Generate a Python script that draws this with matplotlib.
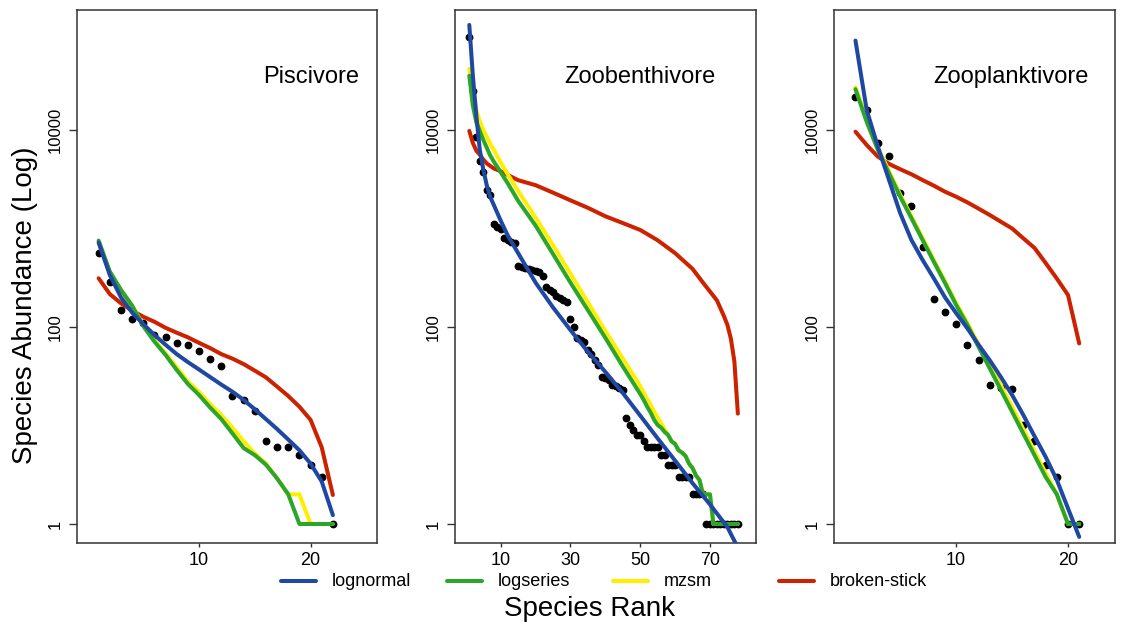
import matplotlib
matplotlib.use('Agg')
import matplotlib.pyplot as plt
from matplotlib.lines import Line2D
import numpy as np

plt.rcParams['font.family'] = ['Liberation Sans', 'DejaVu Sans']

guilds = ['Piscivore', 'Zoobenthivore', 'Zooplanktivore']
models = ['lognormal', 'logseries', 'mzsm', 'broken-stick']
model_colors = ['#1f48a3', '#2ba52b', '#ffee00', '#cc2200']

# --- Piscivore: 22 species, fitted values at every rank
pisc_obs = [560, 284, 149, 120, 109, 83, 79, 69, 65, 57, 47, 40, 20, 18, 14,
            7, 6, 6, 5, 4, 3, 1]
pisc_lognormal = [718, 337, 200, 140, 107, 83, 66, 53, 44, 37, 31, 26, 22,
                  18.2, 14.6, 11.6, 9.2, 7.2, 5.6, 4.1, 2.7, 1.23]
pisc_logseries = [753, 366, 238, 165, 102, 71, 52, 36.6, 26.4, 20.4, 15.2,
                  11.6, 8.3, 5.9, 5.0, 4.0, 2.9, 2.0, 1, 1, 1, 1]
pisc_mzsm = [730, 360, 236, 165, 104, 73, 54, 39, 28, 22, 16.5, 12.8, 9.5,
             6.9, 5.2, 4.1, 2.9, 2, 2, 1, 1, 1]
pisc_broken = [312, 216, 174, 147, 127, 113, 98, 87.5, 78.5, 69, 61, 53, 47.7,
               42, 36, 30.8, 24.8, 19.9, 15.5, 11.4, 6.0, 1.97]

# --- Zoobenthivore: 78 species, fitted curves read at selected ranks
zoob_obs = [87300, 24900, 8500, 4840, 3775, 2460, 2190, 1100, 1040, 990,
            800, 765, 735, 707, 416, 406, 397, 388, 379, 370,
            362, 330, 253, 240, 227, 206, 196, 188, 180, 120,
            101, 77, 74, 70, 58, 53, 46, 41, 31, 30,
            29, 26, 25, 24, 23, 12, 10, 9, 8, 8,
            7, 6, 6, 6, 6, 5, 5, 4, 4, 4,
            3, 3, 3, 3, 2, 2, 2, 2, 1, 1,
            1, 1, 1, 1, 1, 1, 1, 1]
zoob_lognormal_rank = [1, 2, 3, 4, 5, 6, 7, 8, 10, 12, 15, 20, 25, 30, 35, 40,
                       45, 50, 55, 60, 65, 70, 75, 78]
zoob_lognormal = [116400, 36300, 14100, 6310, 3980, 2750, 2090, 1740, 1200,
                  851, 562, 282, 158, 93, 56, 35, 21.4, 12.6, 7.4, 4.4, 2.6,
                  1.58, 0.93, 0.575]
zoob_logseries_rank = [1, 2, 3, 4, 5, 6, 7, 8, 10, 12, 15, 20, 25, 30, 35, 40,
                       45, 50, 51, 52, 53, 54, 55, 56, 57, 58, 59, 60, 61, 62,
                       63, 64, 65, 66, 67, 68, 69, 70, 71, 78]
zoob_logseries = [35500, 17800, 12000, 9770, 7940, 6610, 5500, 4790, 3720,
                  2880, 1905, 1070, 550, 282, 148, 77.6, 39.8, 20.9, 18.2,
                  15.5, 13.5, 11.4, 10.1, 9.5, 8.6, 8.0, 6.9, 6.5, 5.6, 5.3,
                  4.9, 4.1, 3.7, 3.1, 2.8, 2, 2, 2, 1, 1]
zoob_mzsm_rank = [1, 2, 3, 4, 5, 6, 7, 8, 10, 12, 15, 20, 25, 30, 35, 40, 45,
                  50, 52, 55, 58, 59, 60, 61, 62, 63, 64, 65, 66, 67, 68, 69,
                  70, 71, 78]
zoob_mzsm = [41700, 24000, 15800, 12300, 10000, 8510, 7240, 6310, 4680, 3550,
             2400, 1290, 676, 347, 178, 91, 47.9, 25.1, 18.6, 12.0, 8.0, 6.9,
             6.5, 5.6, 5.3, 4.9, 4.1, 3.7, 3.1, 2.8, 2, 2, 2, 1, 1]
zoob_broken_rank = [1, 2, 3, 4, 5, 6, 8, 10, 15, 20, 25, 30, 35, 40, 45, 50,
                    55, 60, 65, 68, 70, 72, 74, 75, 76, 77, 78]
zoob_broken = [9770, 7410, 6170, 5620, 5010, 4570, 4070, 3800, 3090, 2750,
               2310, 1930, 1620, 1330, 1135, 966, 759, 562, 389, 282, 229,
               186, 129, 105, 76, 44.7, 13.2]

# --- Zooplanktivore: 21 species
zoop_obs = [21500, 15960, 7330, 5480, 2310, 1690, 653, 192, 143, 106, 65, 46,
            25.6, 24, 23.6, 10, 7, 4, 3, 1, 1]
zoop_lognormal = [80700, 16000, 6770, 3100, 1427, 764, 479, 312, 200, 138, 97,
                  66, 46, 31, 20.4, 12.8, 7.8, 4.8, 2.8, 1.44, 0.74]
zoop_logseries = [25900, 12100, 6270, 3630, 2100, 1270, 764, 460, 280, 167,
                  105, 63, 38, 23, 13.8, 8.3, 5.0, 3.0, 2.0, 1, 1]
zoop_mzsm = [27000, 12800, 6600, 3800, 2200, 1330, 800, 480, 292, 175, 110,
             67, 41, 25.5, 15.5, 9.2, 5.5, 3.3, 2.0, 1, 1]
zoop_broken = [9600, 7040, 5360, 4520, 3990, 3550, 3100, 2720, 2360, 2100,
               1840, 1590, 1370, 1170, 1000, 795, 635, 446, 310, 211, 68]

pisc_ranks = np.arange(1, len(pisc_obs) + 1)
zoob_ranks = np.arange(1, len(zoob_obs) + 1)
zoop_ranks = np.arange(1, len(zoop_obs) + 1)

panels = [
    (pisc_ranks, pisc_obs,
     [(pisc_ranks, pisc_lognormal), (pisc_ranks, pisc_logseries),
      (pisc_ranks, pisc_mzsm), (pisc_ranks, pisc_broken)],
     [10, 20], (-0.94, 26.0)),
    (zoob_ranks, zoob_obs,
     [(zoob_lognormal_rank, zoob_lognormal), (zoob_logseries_rank, zoob_logseries),
      (zoob_mzsm_rank, zoob_mzsm), (zoob_broken_rank, zoob_broken)],
     [10, 30, 50, 70], (-3.1, 83.2)),
    (zoop_ranks, zoop_obs,
     [(zoop_ranks, zoop_lognormal), (zoop_ranks, zoop_logseries),
      (zoop_ranks, zoop_mzsm), (zoop_ranks, zoop_broken)],
     [10, 20], (-0.92, 24.2)),
]

W, H = 1126, 625
fig = plt.figure(figsize=(W / 100, H / 100), dpi=100)

# pixel boxes of the three panels: left, right; and title centre x
boxes = [(77, 377.5), (455, 756), (834, 1115)]
title_x = [311, 640, 1011]
top, bottom = 10, 543.3

frame = '#333333'
for i, (ranks, obs, fits, xt, xl) in enumerate(panels):
    l, r = boxes[i]
    ax = fig.add_axes([l / W, 1 - bottom / H, (r - l) / W, (bottom - top) / H])
    ax.plot(ranks, obs, 'o', color='black', ms=4.6, zorder=2)
    # broken-stick first, lognormal on top
    for k in [3, 2, 1, 0]:
        fx, fy = fits[k]
        ax.plot(fx, fy, color=model_colors[k], lw=2.9, zorder=3 + (3 - k),
                solid_joinstyle='round', solid_capstyle='round')
    ax.set_yscale('log')
    ax.set_ylim(0.637, 165000)
    ax.set_xlim(*xl)
    ax.set_yticks([1, 100, 10000])
    ax.set_yticklabels(['1', '100', '10000'], rotation=90, va='center')
    ax.yaxis.set_minor_locator(matplotlib.ticker.NullLocator())
    ax.set_xticks(xt)
    ax.tick_params(axis='y', length=6, width=1, color=frame, labelsize=12, pad=4)
    ax.tick_params(axis='x', length=3, width=1, color=frame, labelsize=13, pad=3)
    for s in ax.spines.values():
        s.set_color(frame)
        s.set_linewidth(1.1)
    fig.text(title_x[i] / W, 1 - 77 / H, guilds[i], ha='center', va='center',
             fontsize=17)

fig.text(25 / W, 1 - 305 / H, 'Species Abundance (Log)', rotation=90,
         ha='center', va='center', fontsize=20)
fig.text(590 / W, 1 - 609 / H, 'Species Rank', ha='center', va='center',
         fontsize=20)

# legend drawn in one row with equal spacing
for i, name in enumerate(models):
    x0 = 281 + i * 166
    yy = 1 - 581 / H
    fig.add_artist(Line2D([x0 / W, (x0 + 35) / W], [yy, yy], color=model_colors[i],
                          lw=2.9, solid_capstyle='round'))
    fig.text((x0 + 51) / W, yy, name, ha='left', va='center', fontsize=13)

fig.savefig('out.png', dpi=100)
